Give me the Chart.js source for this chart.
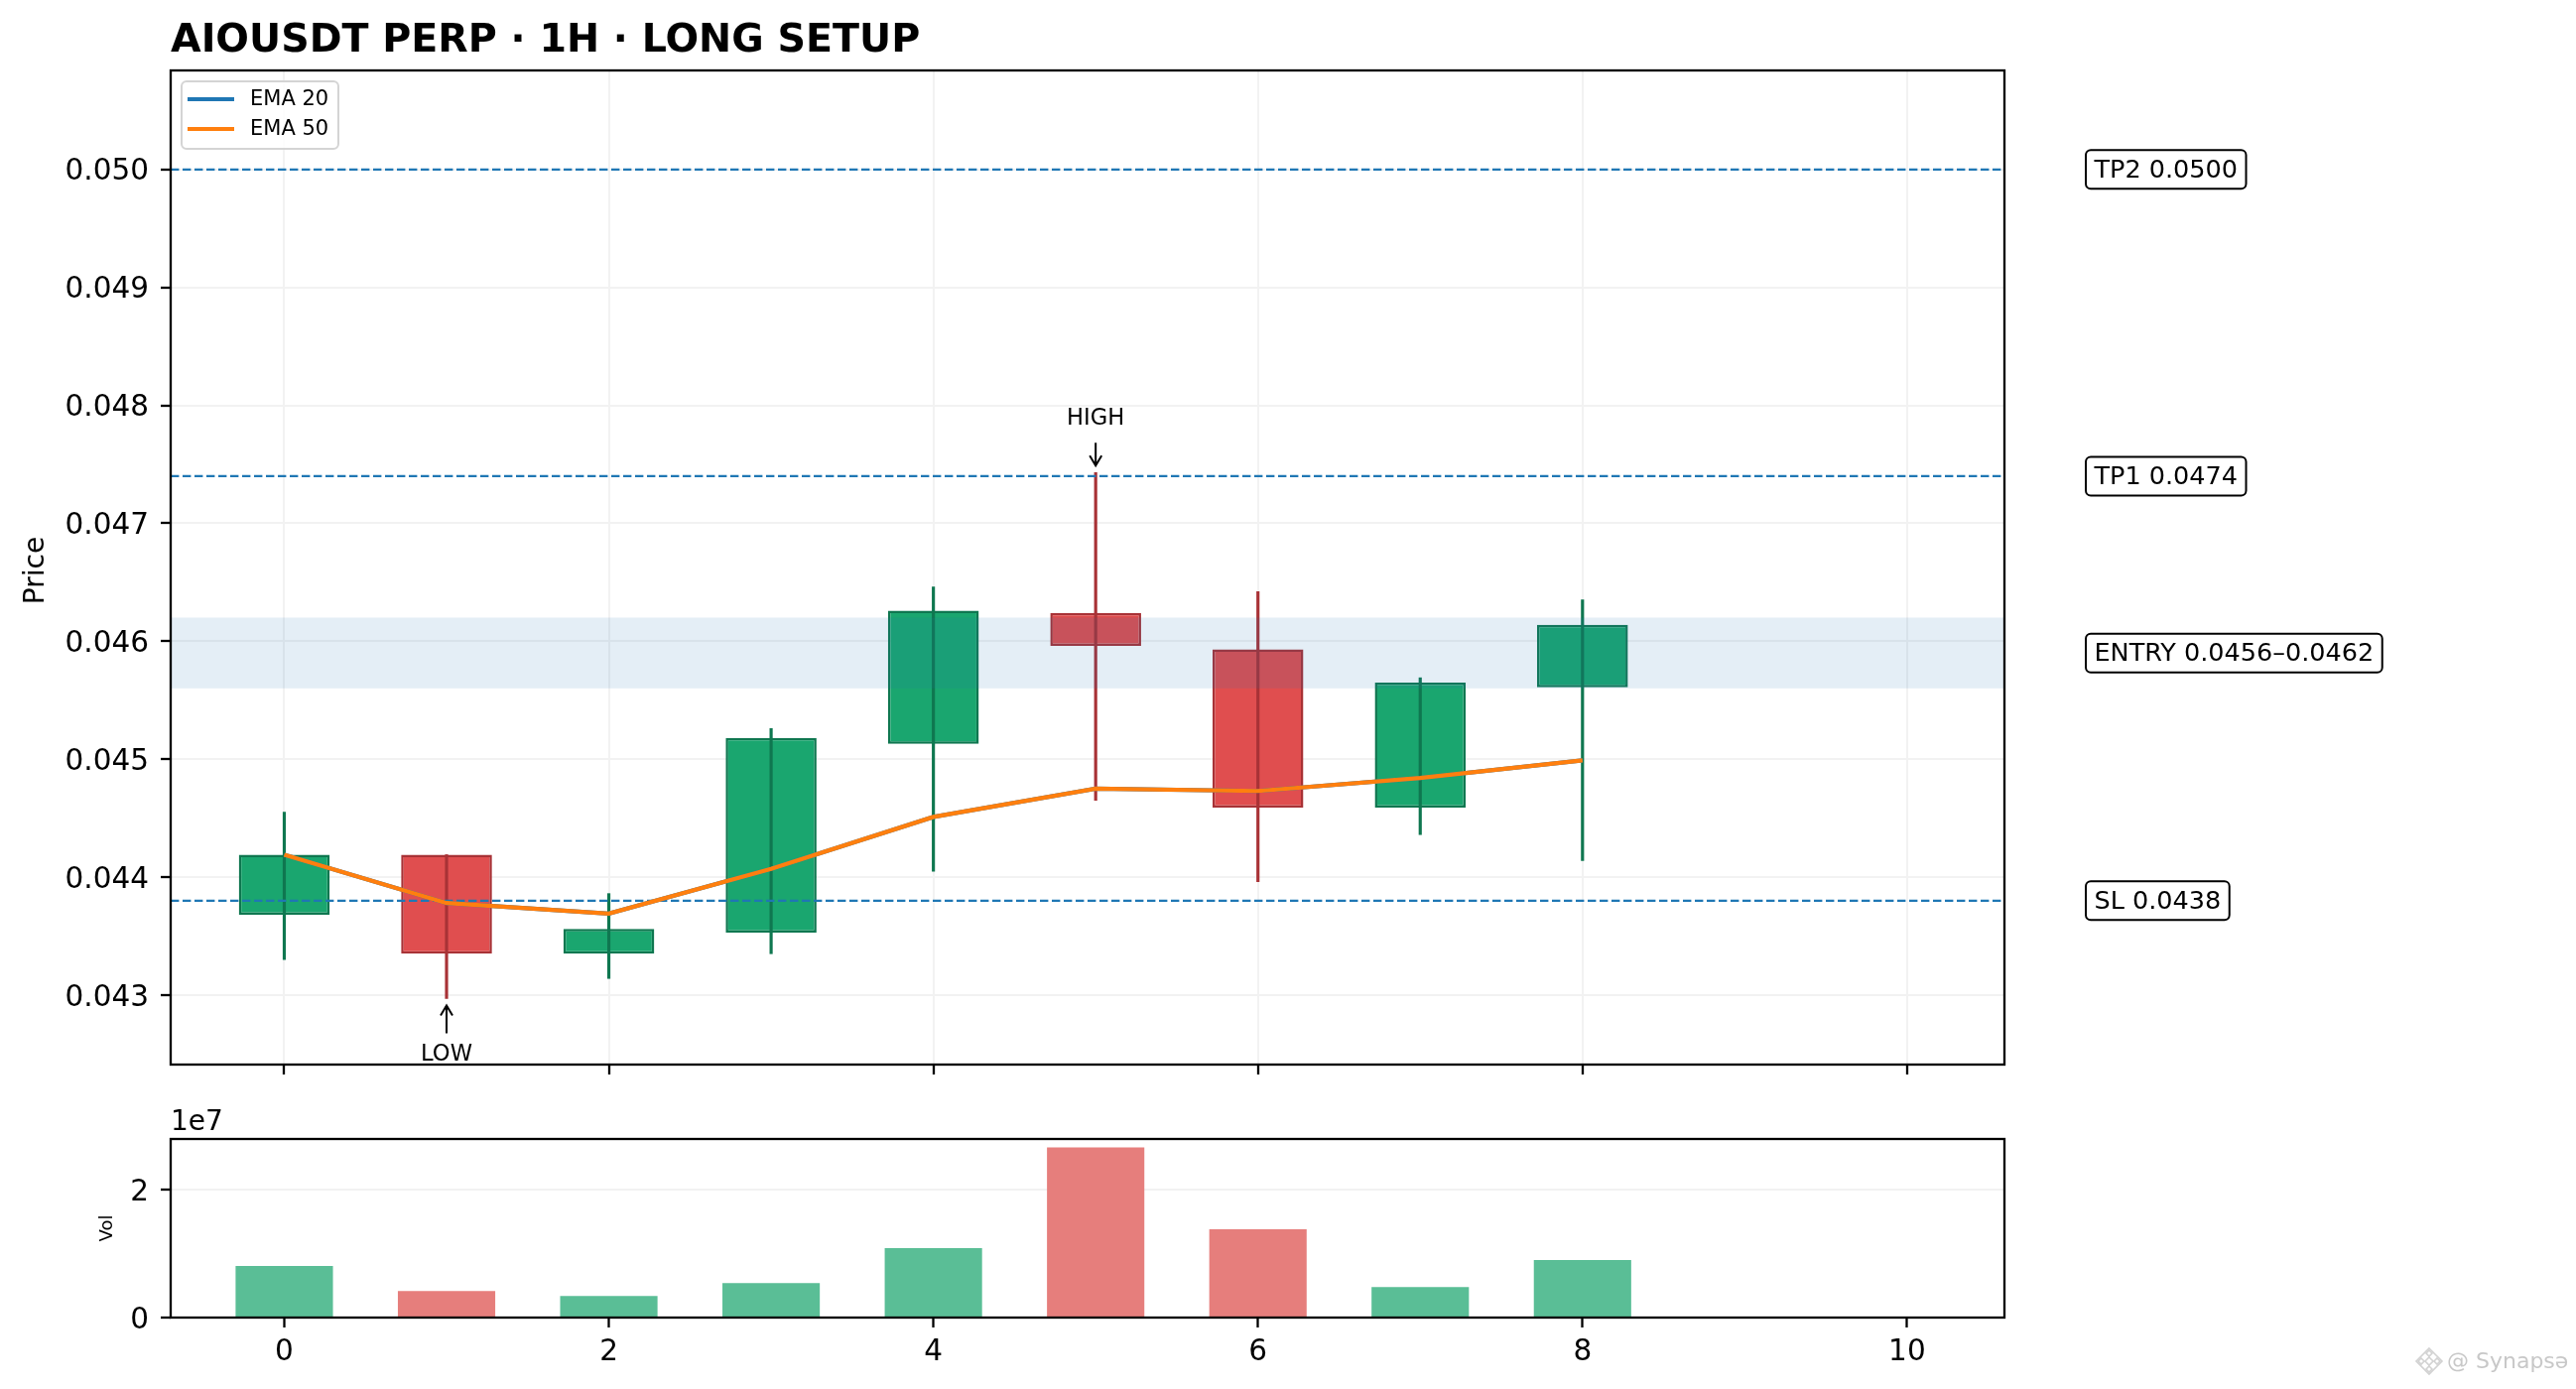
<!DOCTYPE html>
<html>
<head>
<meta charset="utf-8">
<script src="https://cdn.jsdelivr.net/npm/chart.js@4.4.1/dist/chart.umd.min.js"></script>
<style>
  html, body { margin: 0; padding: 0; background: #fff; width: 2596px; height: 1400px; overflow: hidden; }
  #main { position: absolute; left: 0; top: 0; }
  #vol { position: absolute; left: 0; top: 1100px; }
</style>
</head>
<body>
<canvas id="main" width="2596" height="1110"></canvas>
<canvas id="vol" width="2596" height="300"></canvas>
<script>
// ---------------- data ----------------
const chartTitle = 'AIOUSDT PERP · 1H · LONG SETUP';
const candleIndex = [0, 1, 2, 3, 4, 5, 6, 7, 8];
const openP  = [0.04368, 0.04419, 0.04335, 0.04353, 0.04513, 0.04624, 0.04593, 0.04459, 0.04561];
const highP  = [0.04455, 0.04419, 0.04386, 0.04526, 0.04646, 0.04743, 0.04642, 0.04569, 0.04635];
const lowP   = [0.04330, 0.04297, 0.04314, 0.04335, 0.04405, 0.04465, 0.04396, 0.04436, 0.04414];
const closeP = [0.04419, 0.04335, 0.04356, 0.04518, 0.04626, 0.04596, 0.04459, 0.04565, 0.04614];
const ema20  = [0.04419, 0.04378, 0.04369, 0.04407, 0.04451, 0.04475, 0.04473, 0.04484, 0.04499];
const ema50  = [0.04419, 0.04378, 0.04369, 0.04407, 0.04451, 0.04475, 0.04473, 0.04484, 0.04499];
const volume = [8.05e6, 4.16e6, 3.38e6, 5.40e6, 10.86e6, 26.59e6, 13.82e6, 4.78e6, 9.00e6];

const dashedLevels = [0.0500, 0.0474, 0.0438];          // TP2, TP1, SL
const entryZone = [0.0456, 0.0462];
const levelLabels = ['TP2 0.0500', 'TP1 0.0474', 'ENTRY 0.0456–0.0462', 'SL 0.0438'];
const levelPrices = [0.0500, 0.0474, 0.0459, 0.0438];

const priceTicks = [0.043, 0.044, 0.045, 0.046, 0.047, 0.048, 0.049, 0.050];
const priceTickLabels = ['0.043', '0.044', '0.045', '0.046', '0.047', '0.048', '0.049', '0.050'];
const xTicks = [0, 2, 4, 6, 8, 10];
const xTickLabels = ['0', '2', '4', '6', '8', '10'];
const volTicks = [0, 2e7];
const volTickLabels = ['0', '2'];
const volOffsetLabel = '1e7';
const priceAxisLabel = 'Price';
const volAxisLabel = 'Vol';
const watermark = '@ Synapsə';

// axis limits
const xMin = -0.7, xMax = 10.6;
const yMin = 0.04241, yMax = 0.05084;
const volMax = Math.max(...volume) * 1.05;

// ---------------- styles ----------------
const FONT = '"DejaVu Sans", "Liberation Sans", sans-serif';
Chart.defaults.font.family = FONT;
const UP = '#1aa66f', UP_EDGE = '#0f7750';
const DN = '#e04e4f', DN_EDGE = '#a83236';
const isUp = candleIndex.map((_, i) => closeP[i] >= openP[i]);
const bodyColors = isUp.map(u => u ? UP : DN);
const edgeColors = isUp.map(u => u ? UP_EDGE : DN_EDGE);
const volColors = isUp.map(u => u ? '#5abe96' : '#e67e7c');
const GRID = '#f2f2f2';
const TICK_FONT = 29.5;

const fixedTicks = (vals) => (s) => { s.ticks = vals.map(v => ({ value: v })); };

function arrow(ctx, x1, y1, x2, y2) {
  const ang = Math.atan2(y2 - y1, x2 - x1);
  ctx.beginPath();
  ctx.moveTo(x1, y1); ctx.lineTo(x2, y2);
  ctx.moveTo(x2 - 10 * Math.cos(ang) + 6 * Math.sin(ang), y2 - 10 * Math.sin(ang) - 6 * Math.cos(ang));
  ctx.lineTo(x2, y2);
  ctx.lineTo(x2 - 10 * Math.cos(ang) - 6 * Math.sin(ang), y2 - 10 * Math.sin(ang) + 6 * Math.cos(ang));
  ctx.stroke();
}

// ---------------- main chart ----------------
const WICK_DS = 5;
const mainPlugin = {
  id: 'mainDecor',
  beforeDraw(chart) {
    const c = chart.ctx; c.save(); c.fillStyle = '#fff'; c.fillRect(0, 0, chart.width, chart.height); c.restore();
  },
  afterDatasetDraw(chart, args) {
    if (args.index !== WICK_DS) return;
    const { ctx, chartArea: a, scales: { y } } = chart;
    const t = y.getPixelForValue(entryZone[1]), b = y.getPixelForValue(entryZone[0]);
    ctx.save();
    ctx.fillStyle = 'rgba(31,119,180,0.12)';
    ctx.fillRect(a.left, t, a.right - a.left, b - t);
    ctx.restore();
  },
  afterDraw(chart) {
    const { ctx, chartArea: a, scales: { x, y } } = chart;
    ctx.save();
    // frame
    ctx.strokeStyle = '#000'; ctx.lineWidth = 2.3;
    ctx.strokeRect(a.left, a.top, a.right - a.left, a.bottom - a.top);
    // title
    ctx.fillStyle = '#000';
    ctx.font = 'bold 39.6px ' + FONT; ctx.textAlign = 'left'; ctx.textBaseline = 'alphabetic';
    ctx.fillText(chartTitle, a.left, 52);
    // y axis label
    ctx.save();
    ctx.translate(37, (a.top + a.bottom) / 2 + 3); ctx.rotate(-Math.PI / 2);
    ctx.font = '28px ' + FONT; ctx.textAlign = 'center'; ctx.textBaseline = 'middle';
    ctx.fillText(priceAxisLabel, 0, 0);
    ctx.restore();
    // legend
    const lx = a.left + 11, ly = a.top + 11;
    ctx.beginPath(); ctx.roundRect(lx, ly, 158, 68, 5);
    ctx.fillStyle = 'rgba(255,255,255,0.85)'; ctx.fill();
    ctx.strokeStyle = '#d4d4d4'; ctx.lineWidth = 2; ctx.stroke();
    const legendSets = ['EMA 20', 'EMA 50'].map(l => chart.data.datasets.find(d => d.label === l));
    legendSets.forEach((d, k) => {
      const yy = ly + 18 + k * 30;
      ctx.strokeStyle = d.borderColor; ctx.lineWidth = 4;
      ctx.beginPath(); ctx.moveTo(lx + 6, yy); ctx.lineTo(lx + 53, yy); ctx.stroke();
      ctx.fillStyle = '#000'; ctx.font = '21px ' + FONT; ctx.textAlign = 'left'; ctx.textBaseline = 'middle';
      ctx.fillText(d.label, lx + 69, yy + 1);
    });
    // level labels at the right
    ctx.font = '25.5px ' + FONT;
    levelLabels.forEach((t, k) => {
      const cy = y.getPixelForValue(levelPrices[k]);
      const w = ctx.measureText(t).width + 17;
      const bx = a.right + 82, by = cy - 19.5;
      ctx.beginPath(); ctx.roundRect(bx, by, w, 39, 5);
      ctx.fillStyle = '#fff'; ctx.fill();
      ctx.lineWidth = 2; ctx.strokeStyle = '#000'; ctx.stroke();
      ctx.fillStyle = '#000'; ctx.textAlign = 'left'; ctx.textBaseline = 'alphabetic';
      ctx.fillText(t, bx + 8.5, cy + 8);
    });
    // HIGH / LOW annotations
    const hiIdx = highP.indexOf(Math.max(...highP));
    const loIdx = lowP.indexOf(Math.min(...lowP));
    const hx = x.getPixelForValue(candleIndex[hiIdx]), hy = y.getPixelForValue(highP[hiIdx]);
    const lxp = x.getPixelForValue(candleIndex[loIdx]), lyp = y.getPixelForValue(lowP[loIdx]);
    ctx.strokeStyle = '#000'; ctx.lineWidth = 2;
    arrow(ctx, hx, hy - 30, hx, hy - 7);
    arrow(ctx, lxp, lyp + 35, lxp, lyp + 7);
    ctx.fillStyle = '#000'; ctx.font = '22.6px ' + FONT; ctx.textAlign = 'center'; ctx.textBaseline = 'middle';
    ctx.fillText('HIGH', hx, hy - 54);
    ctx.fillText('LOW', lxp, lyp + 57);
    ctx.restore();
  }
};

const gridMain = { color: GRID, lineWidth: 2, offset: false, drawTicks: true, tickLength: 10, tickColor: '#000', tickWidth: 2.3 };

new Chart(document.getElementById('main'), {
  type: 'bar',
  data: {
    datasets: [
      { label: 'EMA 50', type: 'line', data: candleIndex.map((v, i) => ({ x: v, y: ema50[i] })),
        borderColor: '#ff7f0e', borderWidth: 4.2, pointRadius: 0, tension: 0, fill: false, order: 0 },
      { label: 'EMA 20', type: 'line', data: candleIndex.map((v, i) => ({ x: v, y: ema20[i] })),
        borderColor: '#1f77b4', borderWidth: 4.2, pointRadius: 0, tension: 0, fill: false, order: 1 },
      ...dashedLevels.map((lv, k) => ({
        label: 'level' + k, type: 'line', data: [{ x: xMin, y: lv }, { x: xMax, y: lv }],
        borderColor: '#1f77b4', borderWidth: 2.3, borderDash: [8.4, 3.6], pointRadius: 0, fill: false, order: 2
      })),
      { label: 'Wicks', data: candleIndex.map((v, i) => ({ x: v, y: [lowP[i], highP[i]] })),
        backgroundColor: edgeColors, borderWidth: 0, barThickness: 2.5, grouped: false, order: 5 },
      { label: 'Bodies', data: candleIndex.map((v, i) => ({ x: v, y: [openP[i], closeP[i]] })),
        backgroundColor: bodyColors, borderColor: edgeColors, borderWidth: 2.5, borderSkipped: false,
        barPercentage: 0.56, categoryPercentage: 1, grouped: false, order: 6 }
    ]
  },
  options: {
    responsive: false, animation: false, devicePixelRatio: 1, events: [],
    layout: { padding: { left: 0, top: 71, right: 576, bottom: 0 } },
    plugins: { legend: { display: false }, tooltip: { enabled: false }, title: { display: false } },
    scales: {
      x: {
        type: 'linear', min: xMin, max: xMax, offset: false,
        afterBuildTicks: fixedTicks(xTicks),
        afterFit: (s) => { s.height = 37; },
        grid: gridMain, border: { display: false },
        ticks: { display: false }
      },
      y: {
        type: 'linear', min: yMin, max: yMax, beginAtZero: false,
        afterBuildTicks: fixedTicks(priceTicks),
        afterFit: (s) => { s.width = 172; },
        grid: gridMain, border: { display: false },
        ticks: { color: '#000', font: { size: TICK_FONT, family: FONT }, padding: 12, labelOffset: 3,
                 callback: (v, i) => priceTickLabels[i] }
      }
    }
  },
  plugins: [mainPlugin]
});

// ---------------- volume chart ----------------
const volPlugin = {
  id: 'volDecor',
  beforeDraw(chart) {
    const c = chart.ctx; c.save(); c.fillStyle = '#fff'; c.fillRect(0, 0, chart.width, chart.height); c.restore();
  },
  afterDraw(chart) {
    const { ctx, chartArea: a } = chart;
    ctx.save();
    ctx.strokeStyle = '#000'; ctx.lineWidth = 2.3;
    ctx.strokeRect(a.left, a.top, a.right - a.left, a.bottom - a.top);
    // offset label
    ctx.fillStyle = '#000'; ctx.font = '28px ' + FONT; ctx.textAlign = 'left'; ctx.textBaseline = 'alphabetic';
    ctx.fillText(volOffsetLabel, a.left, a.top - 9);
    // y label
    ctx.save();
    ctx.translate(108, (a.top + a.bottom) / 2); ctx.rotate(-Math.PI / 2);
    ctx.font = '18px ' + FONT; ctx.textAlign = 'center'; ctx.textBaseline = 'middle';
    ctx.fillText(volAxisLabel, 0, 0);
    ctx.restore();
    // watermark
    ctx.fillStyle = '#c8c8c8'; ctx.font = '22px ' + FONT; ctx.textAlign = 'left'; ctx.textBaseline = 'alphabetic';
    ctx.fillText(watermark, 2466, 279);
    ctx.strokeStyle = '#d2d2d2'; ctx.lineWidth = 1.6;
    const cx = 2448, cy = 272;
    [[0, 0, 4], [0, -8, 3], [0, 8, 3], [-8, 0, 3], [8, 0, 3]].forEach(([dx, dy, r]) => {
      ctx.beginPath();
      ctx.moveTo(cx + dx, cy + dy - r); ctx.lineTo(cx + dx + r, cy + dy);
      ctx.lineTo(cx + dx, cy + dy + r); ctx.lineTo(cx + dx - r, cy + dy); ctx.closePath(); ctx.stroke();
    });
    ctx.beginPath();
    ctx.moveTo(cx, cy - 13); ctx.lineTo(cx + 13, cy); ctx.lineTo(cx, cy + 13); ctx.lineTo(cx - 13, cy); ctx.closePath(); ctx.stroke();
    ctx.restore();
  }
};

new Chart(document.getElementById('vol'), {
  type: 'bar',
  data: {
    datasets: [
      { label: 'Volume', data: candleIndex.map((v, i) => ({ x: v, y: volume[i] })),
        backgroundColor: volColors, borderWidth: 0, barPercentage: 0.6, categoryPercentage: 1 }
    ]
  },
  options: {
    responsive: false, animation: false, devicePixelRatio: 1, events: [],
    layout: { padding: { left: 0, top: 48, right: 576, bottom: 0 } },
    plugins: { legend: { display: false }, tooltip: { enabled: false }, title: { display: false } },
    scales: {
      x: {
        type: 'linear', min: xMin, max: xMax, offset: false,
        afterBuildTicks: fixedTicks(xTicks),
        afterFit: (s) => { s.height = 72; },
        grid: { drawOnChartArea: false, offset: false, drawTicks: true, tickLength: 10, tickColor: '#000', tickWidth: 2.3 },
        border: { display: false },
        ticks: { color: '#000', font: { size: TICK_FONT, family: FONT }, padding: 8, maxRotation: 0, autoSkip: false,
                 callback: (v, i) => xTickLabels[i] }
      },
      y: {
        type: 'linear', min: 0, max: volMax,
        afterBuildTicks: fixedTicks(volTicks),
        afterFit: (s) => { s.width = 172; },
        grid: { color: GRID, lineWidth: 2, drawTicks: true, tickLength: 10, tickColor: '#000', tickWidth: 2.3 },
        border: { display: false },
        ticks: { color: '#000', font: { size: TICK_FONT, family: FONT }, padding: 12, labelOffset: 3,
                 callback: (v, i) => volTickLabels[i] }
      }
    }
  },
  plugins: [volPlugin]
});
</script>
</body>
</html>
